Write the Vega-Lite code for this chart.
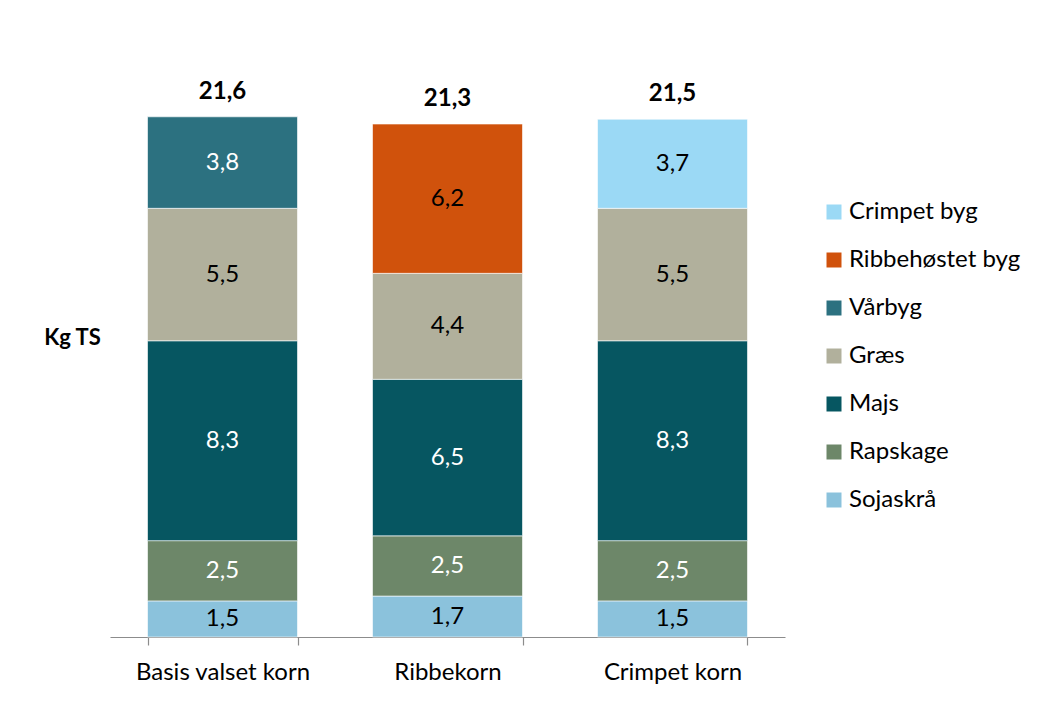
{
  "$schema": "https://vega.github.io/schema/vega-lite/v6.json",
  "width": 675,
  "height": 578,
  "autosize": {"type": "none"},
  "padding": {"left": 110, "top": 59, "right": 261, "bottom": 65},
  "background": "white",
  "config": {
    "view": {"stroke": null},
    "font": "Lato",
    "locale": {"number": {"decimal": ",", "thousands": ".", "grouping": [3], "currency": ["", " kr"]}}
  },
  "data": {
    "values": [
      {"foder": "Basis valset korn", "komponent": "Sojaskrå", "kg": 1.5},
      {"foder": "Basis valset korn", "komponent": "Rapskage", "kg": 2.5},
      {"foder": "Basis valset korn", "komponent": "Majs", "kg": 8.3},
      {"foder": "Basis valset korn", "komponent": "Græs", "kg": 5.5},
      {"foder": "Basis valset korn", "komponent": "Vårbyg", "kg": 3.8},
      {"foder": "Ribbekorn", "komponent": "Sojaskrå", "kg": 1.7},
      {"foder": "Ribbekorn", "komponent": "Rapskage", "kg": 2.5},
      {"foder": "Ribbekorn", "komponent": "Majs", "kg": 6.5},
      {"foder": "Ribbekorn", "komponent": "Græs", "kg": 4.4},
      {"foder": "Ribbekorn", "komponent": "Ribbehøstet byg", "kg": 6.2},
      {"foder": "Crimpet korn", "komponent": "Sojaskrå", "kg": 1.5},
      {"foder": "Crimpet korn", "komponent": "Rapskage", "kg": 2.5},
      {"foder": "Crimpet korn", "komponent": "Majs", "kg": 8.3},
      {"foder": "Crimpet korn", "komponent": "Græs", "kg": 5.5},
      {"foder": "Crimpet korn", "komponent": "Crimpet byg", "kg": 3.7}
    ]
  },
  "transform": [
    {"calculate": "indexof(['Sojaskrå','Rapskage','Majs','Græs','Vårbyg','Ribbehøstet byg','Crimpet byg'], datum.komponent)", "as": "rang"},
    {"stack": "kg", "groupby": ["foder"], "sort": [{"field": "rang", "order": "ascending"}], "as": ["y0", "y1"]},
    {"calculate": "(datum.y0 + datum.y1) / 2", "as": "ymid"},
    {"calculate": "indexof(['Sojaskrå','Ribbehøstet byg','Græs','Crimpet byg'], datum.komponent) >= 0 ? 'mørk' : 'lys'", "as": "tekstfarve"}
  ],
  "layer": [
    {
      "mark": {"type": "bar", "stroke": "white", "strokeWidth": 0.6},
      "encoding": {
        "x": {
          "field": "foder", "type": "nominal",
          "sort": ["Basis valset korn", "Ribbekorn", "Crimpet korn"],
          "scale": {"paddingInner": 0.3333, "paddingOuter": 0.1667},
          "axis": {
            "title": null, "labelAngle": 0, "labelFontSize": 24, "labelColor": "#000000",
            "labelPadding": 15, "tickBand": "extent", "tickSize": 8, "tickColor": "#8c8c8c",
            "domainColor": "#8c8c8c", "domainWidth": 1.2, "tickWidth": 1.2, "grid": false
          }
        },
        "y": {
          "field": "y0", "type": "quantitative",
          "scale": {"domain": [0, 24], "nice": false},
          "axis": {
            "title": "Kg TS", "labels": false, "ticks": false, "domain": false, "grid": false,
            "titleAngle": 0, "titleFontSize": 22, "titleFontWeight": "bold", "titleColor": "#000000",
            "titleX": -38, "titleY": 278, "titleAlign": "center", "titleBaseline": "middle"
          }
        },
        "y2": {"field": "y1"},
        "color": {
          "field": "komponent", "type": "nominal",
          "scale": {
            "domain": ["Crimpet byg", "Ribbehøstet byg", "Vårbyg", "Græs", "Majs", "Rapskage", "Sojaskrå"],
            "range": ["#9BD9F5", "#D0520C", "#2C7180", "#B1B09C", "#065661", "#6D8769", "#8BC2DC"]
          },
          "legend": {
            "title": null, "orient": "none", "legendX": 712, "legendY": 141,
            "symbolType": "square", "symbolSize": 225, "symbolStrokeWidth": 0,
            "labelFontSize": 24, "labelColor": "#000000", "rowPadding": 24, "labelOffset": 3,
            "labelLimit": 400
          }
        }
      }
    },
    {
      "mark": {"type": "text", "fontSize": 24, "baseline": "middle"},
      "encoding": {
        "x": {"field": "foder", "type": "nominal", "sort": ["Basis valset korn", "Ribbekorn", "Crimpet korn"]},
        "y": {"field": "ymid", "type": "quantitative"},
        "text": {"field": "kg", "type": "quantitative", "format": ".1f"},
        "color": {
          "field": "tekstfarve", "type": "nominal",
          "scale": {"domain": ["mørk", "lys"], "range": ["#000000", "#FFFFFF"]},
          "legend": null
        }
      }
    },
    {
      "transform": [{"aggregate": [{"op": "sum", "field": "kg", "as": "total"}], "groupby": ["foder"]}],
      "mark": {"type": "text", "fontSize": 24, "fontWeight": "bold", "baseline": "bottom", "dy": -13, "color": "#000000"},
      "encoding": {
        "x": {"field": "foder", "type": "nominal", "sort": ["Basis valset korn", "Ribbekorn", "Crimpet korn"]},
        "y": {"field": "total", "type": "quantitative"},
        "text": {"field": "total", "type": "quantitative", "format": ".1f"}
      }
    }
  ],
  "resolve": {"scale": {"color": "independent"}}
}
